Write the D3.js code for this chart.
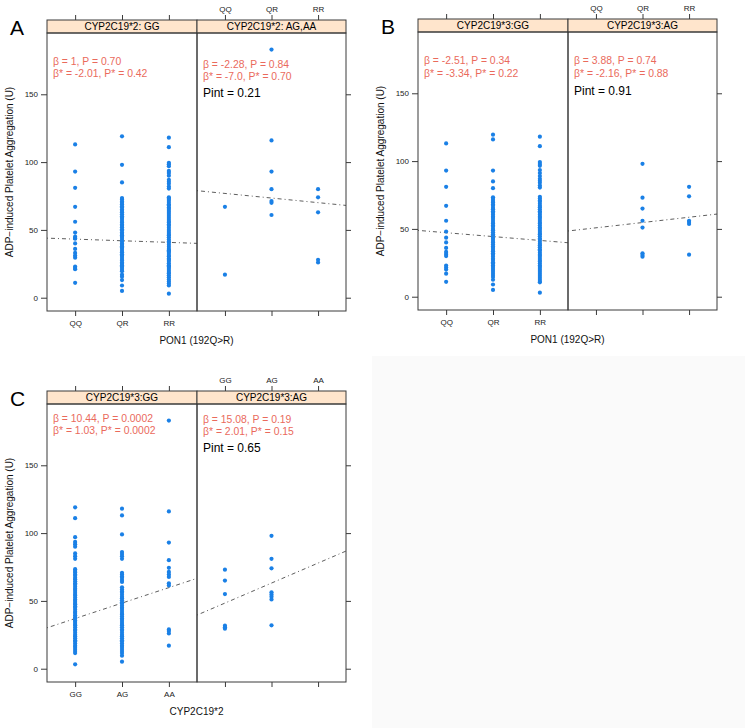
<!DOCTYPE html>
<html><head><meta charset="utf-8">
<script src="https://cdn.jsdelivr.net/npm/d3@7"></script>
<style>
html,body{margin:0;padding:0;background:#fff;}
svg{display:block;font-family:"Liberation Sans",Arial,Helvetica,sans-serif;}
</style></head>
<body><svg id="chart" width="745" height="728"></svg>
<script>
// ---------- data ----------
const ponCategories = ["QQ", "QR", "RR"];
const cyp2Categories = ["GG", "AG", "AA"];
const yTickValues = [0, 50, 100, 150];

// Panel A : CYP2C19*2: GG  (columns QQ, QR, RR)
const A_left_QQ = [113, 93, 81, 67, 56, 48, 45, 44, 43.5, 40, 36, 33, 31, 29.5, 23, 22, 21, 11];
const A_left_QR = [119, 98, 85, 73.5, 72.5, 71, 70, 69, 67.5, 66.5, 65, 64, 63, 61.5, 60, 59, 58, 56.5, 55.5, 54, 53, 52, 50.5, 49.5, 48, 47, 46, 45, 44, 42.5, 41.5, 40, 39, 38, 37, 36, 34.5, 33.5, 32, 31, 30, 28.5, 27.5, 26, 25, 24, 23, 22, 20.5, 19.5, 17, 15.5, 13, 9, 5];
const A_left_RR = [118, 111, 99.5, 98.5, 97, 93.5, 92, 90, 87, 85.5, 84, 82, 80.5, 74, 73, 72, 70.5, 69, 68, 66.5, 65.5, 64, 62.5, 61, 59.5, 58, 56.5, 55.5, 54, 53, 51.5, 50, 48.5, 47, 46, 44.5, 43, 41.5, 40.5, 39, 37.5, 36, 35, 34, 33, 31.5, 30.5, 29, 28, 27, 25.5, 24, 23, 22, 20.5, 19, 18, 16.5, 15, 13.5, 12, 10.5, 9, 3];
// Panel A : CYP2C19*2: AG,AA
const A_right_QQ = [67, 17];
const A_right_QR = [183, 116, 93, 80, 71.3, 70, 61];
const A_right_RR = [80, 74, 63, 28, 26];

// Panel B : CYP2C19*3:GG
const B_left_QQ = [113, 93, 81, 67, 56, 48, 43.5, 40, 36, 33, 31.5, 30, 23, 21.5, 20, 17, 11];
const B_left_QR = [119.5, 116, 93, 85, 80, 73.3, 72, 70.5, 69.5, 68, 67, 65.5, 64.5, 63, 62, 60.5, 59, 58, 56.5, 55, 54, 52.5, 51.5, 50, 49, 47.5, 46, 45, 43.5, 42.5, 41, 40, 38.5, 37, 36, 34.5, 33.5, 32, 31, 29.5, 28, 27, 25.5, 24.5, 23, 22, 20.5, 19, 17.5, 16, 14.5, 12.5, 9, 5];
const B_left_RR = [118, 111, 99.3, 97.8, 96.5, 93.4, 91.2, 89, 87, 85.5, 84, 82, 80.5, 73.7, 72.5, 71, 70, 68.5, 67, 66, 64.5, 63, 62, 60.5, 59, 58, 56.5, 55, 54, 52.5, 51, 50, 48.5, 47, 46, 44.5, 43, 42, 40.5, 39, 38, 36.5, 35, 34, 32.5, 31, 30, 28.5, 27, 26, 24.5, 23, 22, 20.5, 19, 17.5, 16, 14.5, 13, 11.5, 10.6, 3];
// Panel B : CYP2C19*3:AG
const B_right_QQ = [];
const B_right_QR = [98, 73, 65, 56, 51, 32, 30.8, 29.5];
const B_right_RR = [81, 74, 56, 55, 53.6, 31];

// Panel C : CYP2C19*3:GG  (columns GG, AG, AA of CYP2C19*2)
const C_left_GG = [119, 111, 97, 93.5, 91.8, 90, 85, 83, 81, 73.4, 72, 71, 69.5, 68.5, 67, 66, 64.5, 63, 62, 60.5, 59, 58, 56.5, 55, 54, 52.5, 51, 50, 48.5, 47.5, 46, 45, 43.5, 42, 41, 39.5, 38, 37, 35.5, 34.5, 33, 32, 30.5, 29, 28, 26.5, 25, 24, 22.5, 21, 20, 18.5, 17, 16, 14.5, 13, 11.5, 3.2];
const C_left_AG = [118, 113, 99, 86, 84.5, 83, 81, 70.7, 69.5, 68, 67, 65.5, 64, 60, 58.5, 57, 56, 54.5, 53, 52, 50.5, 49, 48, 46.5, 45, 44, 42.5, 41, 40, 38.5, 37, 36, 34.5, 33, 32, 30.5, 29, 28, 26.5, 25, 24, 22.5, 21, 20, 18.5, 17, 16, 14.5, 13, 11.5, 9.6, 5.2];
const C_left_AA = [183, 116, 93, 80, 74.4, 71.4, 69.5, 67.7, 63, 61.4, 29, 27.8, 26, 17];
// Panel C : CYP2C19*3:AG
const C_right_GG = [73, 65, 55, 31.7, 30.5, 29.5];
const C_right_AG = [98, 81, 74, 56.3, 54.8, 53.1, 51.1, 32];
const C_right_AA = [];

// fitted dot-dash lines: fitted value at first and last category position
const fitA_left = [43.2, 40.8];
const fitA_right = [76.9, 70.1];
const fitB_left = [47.2, 41.5];
const fitB_right = [50.8, 58.6];
const fitC_left = [37.0, 59.8];
const fitC_right = [48.4, 77.9];

// annotation texts
const statsA_left = ["β = 1, P = 0.70", "β* = -2.01, P* = 0.42"];
const statsA_right = ["β = -2.28, P = 0.84", "β* = -7.0, P* = 0.70"];
const statsB_left = ["β = -2.51, P = 0.34", "β* = -3.34, P* = 0.22"];
const statsB_right = ["β = 3.88, P = 0.74", "β* = -2.16, P* = 0.88"];
const statsC_left = ["β = 10.44, P = 0.0002", "β* = 1.03, P* = 0.0002"];
const statsC_right = ["β = 15.08, P = 0.19", "β* = 2.01, P* = 0.15"];
const pintA = "Pint = 0.21", pintB = "Pint = 0.91", pintC = "Pint = 0.65";

// ---------- layout ----------
const figures = [
  {letter: "A", ox: 0, oy: 0, cats: ponCategories, xlabel: "PON1 (192Q>R)",
   strips: ["CYP2C19*2: GG", "CYP2C19*2: AG,AA"],
   panels: [
     {cols: [A_left_QQ, A_left_QR, A_left_RR], fit: fitA_left, stats: statsA_left, sy: 62},
     {cols: [A_right_QQ, A_right_QR, A_right_RR], fit: fitA_right, stats: statsA_right, sy: 65, pint: pintA, py: 94}
   ]},
  {letter: "B", ox: 371, oy: -1, cats: ponCategories, xlabel: "PON1 (192Q>R)",
   strips: ["CYP2C19*3:GG", "CYP2C19*3:AG"],
   panels: [
     {cols: [B_left_QQ, B_left_QR, B_left_RR], fit: fitB_left, stats: statsB_left, sy: 62.5},
     {cols: [B_right_QQ, B_right_QR, B_right_RR], fit: fitB_right, stats: statsB_right, sy: 62.5, pint: pintB, py: 92.5}
   ]},
  {letter: "C", ox: 0, oy: 371, cats: cyp2Categories, xlabel: "CYP2C19*2",
   strips: ["CYP2C19*3:GG", "CYP2C19*3:AG"],
   panels: [
     {cols: [C_left_GG, C_left_AG, C_left_AA], fit: fitC_left, stats: statsC_left, sy: 48},
     {cols: [C_right_GG, C_right_AG, C_right_AA], fit: fitC_right, stats: statsC_right, sy: 49, pint: pintC, py: 77.5}
   ]}
];

const L = 47, M = 197, R = 346, stripTop = 20, plotTop = 33, plotBottom = 311;
const pointColor = "#1a80e6", statColor = "#ea6a5c", frameColor = "#3a3a3a";

const svg = d3.select("#chart");
svg.append("rect").attr("x", 372).attr("y", 356).attr("width", 373).attr("height", 372).attr("fill", "#fafafa");

const y = d3.scaleLinear().domain([-9.8, 195.2]).range([plotBottom, plotTop]);

figures.forEach(fig => {
  const g = svg.append("g").attr("transform", `translate(${fig.ox},${fig.oy})`);
  const xs = [
    d3.scaleLinear().domain([0.4, 3.6]).range([L, M]),
    d3.scaleLinear().domain([0.4, 3.6]).range([M, R])
  ];

  // panel letter
  g.append("text").attr("x", 10).attr("y", 35).attr("font-size", 21).attr("fill", "#000").text(fig.letter);

  // y label
  g.append("text")
    .attr("transform", `translate(10,${(plotTop + plotBottom) / 2}) rotate(-90)`)
    .attr("text-anchor", "middle").attr("dominant-baseline", "middle")
    .attr("font-size", 10).attr("fill", "#111")
    .text("ADP\u2212induced Platelet Aggregation (U)");

  // x label
  g.append("text").attr("x", (L + R) / 2).attr("y", 341).attr("text-anchor", "middle")
    .attr("dominant-baseline", "middle").attr("font-size", 10).attr("fill", "#111").text(fig.xlabel);

  // left axis with labels
  const yAxisL = g.append("g").attr("transform", `translate(${L},0)`)
    .call(d3.axisLeft(y).tickValues(yTickValues).tickSize(6).tickPadding(3));
  yAxisL.select(".domain").remove();
  yAxisL.selectAll("line").attr("stroke", frameColor);
  yAxisL.selectAll("text").attr("font-size", 8).attr("fill", "#222").attr("font-family", "Liberation Sans, Arial, sans-serif");

  // right axis (ticks only)
  const yAxisR = g.append("g").attr("transform", `translate(${R},0)`)
    .call(d3.axisRight(y).tickValues(yTickValues).tickSize(5).tickFormat(""));
  yAxisR.select(".domain").remove();
  yAxisR.selectAll("line").attr("stroke", frameColor);

  // bottom axis: labels under left panel, ticks only under right; top axis the other way round
  xs.forEach((x, i) => {
    const bax = g.append("g").attr("transform", `translate(0,${plotBottom})`)
      .call(d3.axisBottom(x).tickValues([1, 2, 3]).tickSize(5).tickPadding(4)
        .tickFormat(i === 0 ? (d => fig.cats[d - 1]) : ""));
    bax.select(".domain").remove();
    bax.selectAll("line").attr("stroke", frameColor);
    bax.selectAll("text").attr("font-size", 8).attr("fill", "#222").attr("font-family", "Liberation Sans, Arial, sans-serif");

    const tax = g.append("g").attr("transform", `translate(0,${stripTop})`)
      .call(d3.axisTop(x).tickValues([1, 2, 3]).tickSize(5).tickPadding(3)
        .tickFormat(i === 1 ? (d => fig.cats[d - 1]) : ""));
    tax.select(".domain").remove();
    tax.selectAll("line").attr("stroke", frameColor);
    tax.selectAll("text").attr("font-size", 8).attr("fill", "#222").attr("font-family", "Liberation Sans, Arial, sans-serif");
  });

  fig.panels.forEach((p, i) => {
    const x = xs[i];
    const x0 = i === 0 ? L : M, x1 = i === 0 ? M : R;
    const clipId = `clip-${fig.letter}-${i}`;
    g.append("clipPath").attr("id", clipId).append("rect")
      .attr("x", x0).attr("y", plotTop).attr("width", x1 - x0).attr("height", plotBottom - plotTop);

    // strip
    g.append("rect").attr("x", x0).attr("y", stripTop).attr("width", x1 - x0).attr("height", plotTop - stripTop)
      .attr("fill", "#ffe5cc").attr("stroke", frameColor).attr("stroke-width", 1);
    g.append("text").attr("x", (x0 + x1) / 2).attr("y", (stripTop + plotTop) / 2 + 0.5)
      .attr("text-anchor", "middle").attr("dominant-baseline", "middle")
      .attr("font-size", 10).attr("fill", "#000").text(fig.strips[i]);

    const pg = g.append("g").attr("clip-path", `url(#${clipId})`);

    // fitted line, extended across the panel
    const slope = (p.fit[1] - p.fit[0]) / 2;
    const fitAt = t => p.fit[0] + slope * (t - 1);
    const dom = x.domain();
    pg.append("line")
      .attr("x1", x(dom[0])).attr("y1", y(fitAt(dom[0])))
      .attr("x2", x(dom[1])).attr("y2", y(fitAt(dom[1])))
      .attr("stroke", "#333").attr("stroke-width", 0.8).attr("stroke-dasharray", "1,3,4,3");

    // points
    const pts = [];
    p.cols.forEach((col, ci) => col.forEach(v => pts.push({c: ci + 1, v})));
    pg.selectAll("circle").data(pts).join("circle")
      .attr("cx", d => x(d.c)).attr("cy", d => y(d.v)).attr("r", 2.1)
      .attr("fill", pointColor);

    // stats text
    p.stats.forEach((s, k) => {
      g.append("text").attr("x", x0 + 6).attr("y", p.sy + k * 12.5)
        .attr("dominant-baseline", "middle").attr("font-size", 10.4).attr("fill", statColor).text(s);
    });
    if (p.pint) {
      g.append("text").attr("x", x0 + 6).attr("y", p.py)
        .attr("dominant-baseline", "middle").attr("font-size", 12).attr("fill", "#000").text(p.pint);
    }

    // panel frame
    g.append("rect").attr("x", x0).attr("y", plotTop).attr("width", x1 - x0).attr("height", plotBottom - plotTop)
      .attr("fill", "none").attr("stroke", frameColor).attr("stroke-width", 1);
  });
});
</script></body></html>
